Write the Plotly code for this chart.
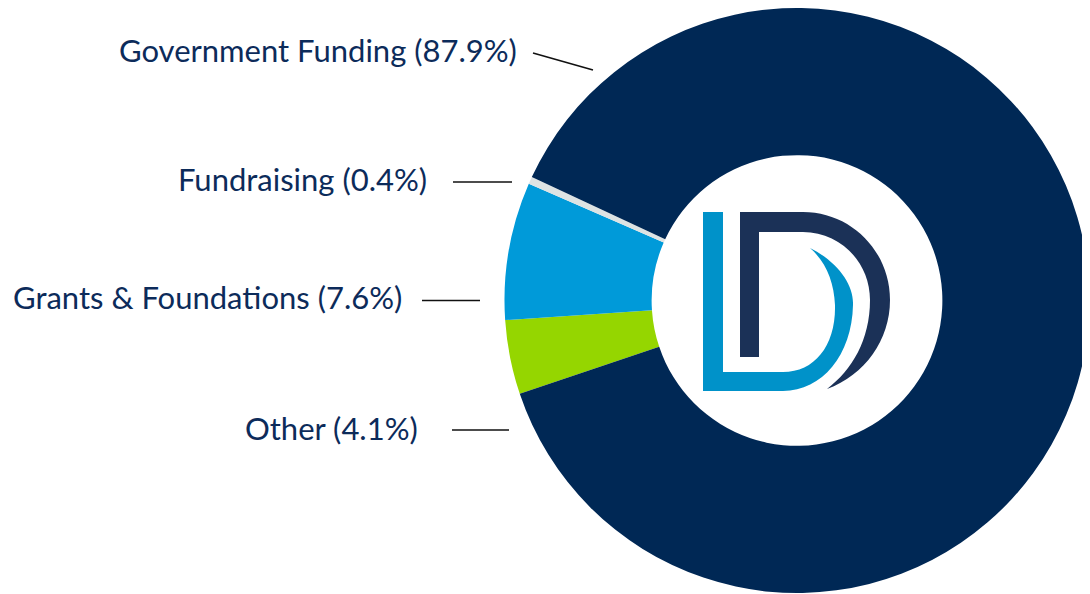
import plotly.graph_objects as go

# ---- data ----
categories = ["Other", "Grants & Foundations", "Fundraising", "Government Funding"]
values = [4.1, 7.6, 0.4, 87.9]
colors = ["#95d600", "#009ad9", "#dde3e3", "#002855"]
label_texts = ["Government Funding (87.9%)", "Fundraising (0.4%)",
               "Grants & Foundations (7.6%)", "Other (4.1%)"]

W, H = 1090, 594
OFF = 8  # page body margin compensation
TEXT_COLOR = "#0c2b5a"
FONT = "Lato"

def px(x):
    return x - OFF

fig = go.Figure()

# dummy trace to establish pixel-coordinate axes for overlays
fig.add_trace(go.Scatter(x=[], y=[], xaxis="x", yaxis="y", showlegend=False, hoverinfo="skip"))

cx, cy, r = px(797), px(300.5), 292.5
fig.add_trace(go.Pie(
    labels=categories, values=values, sort=False, direction="clockwise",
    rotation=251.4, hole=0.497,
    marker=dict(colors=colors, line=dict(width=0)),
    textinfo="none", hoverinfo="label+percent", showlegend=False,
    domain=dict(x=[max(0, (cx - r) / W), min(1, (cx + r) / W)],
                y=[max(0, 1 - (cy + r) / H), min(1, 1 - (cy - r) / H)]),
))

# label annotations (pixel coordinates)
label_pos = [(518, 50), (428, 179), (403, 297), (419, 427.5)]
for txt, (x, y) in zip(label_texts, label_pos):
    fig.add_annotation(x=px(x), y=px(y), xref="x", yref="y", text=txt, showarrow=False,
                       xanchor="right", yanchor="middle", borderpad=0,
                       font=dict(family=FONT, size=31, color=TEXT_COLOR))

# leader lines
leaders = [(533, 53, 593, 70), (453, 182, 512, 182), (422, 300.5, 480, 300.5), (452, 430, 509, 430)]
for x0, y0, x1, y1 in leaders:
    fig.add_shape(type="line", x0=px(x0), y0=px(y0), x1=px(x1), y1=px(y1), xref="x", yref="y",
                  line=dict(color="#111111", width=1.6))

# logo in the hole
def path(cmds):
    out = []
    for c in cmds:
        if isinstance(c, str):
            out.append(c)
        else:
            out.append(f"{px(c[0])} {px(c[1])}")
    return " ".join(out)

light_blue = path(["M", (703, 212), "L", (723, 212), "L", (723, 372), "L", (783, 372),
                   "C", (815, 372), ",", (836, 345), ",", (835, 305),
                   "C", (834, 282), ",", (826, 262), ",", (810, 248),
                   "C", (838, 262), ",", (854, 285), ",", (853, 305),
                   "C", (852, 355), ",", (822, 391), ",", (783, 391),
                   "L", (703, 391), "Z"])
dark_navy = path(["M", (740, 212), "L", (803, 212),
                  "C", (851, 212), ",", (890, 251), ",", (890, 300),
                  "C", (890, 340), ",", (865, 375), ",", (827, 389),
                  "C", (852, 370), ",", (870, 340), ",", (870, 300),
                  "C", (870, 262), ",", (840, 232), ",", (803, 232),
                  "L", (759, 232), "L", (759, 357), "L", (740, 357), "Z"])
fig.add_shape(type="path", path=light_blue, xref="x", yref="y",
              fillcolor="#0092c9", line=dict(width=0), layer="above")
fig.add_shape(type="path", path=dark_navy, xref="x", yref="y",
              fillcolor="#1b3157", line=dict(width=0), layer="above")

fig.update_layout(
    width=W, height=H, margin=dict(l=0, r=0, t=0, b=0),
    paper_bgcolor="white", plot_bgcolor="rgba(0,0,0,0)",
    xaxis=dict(range=[0, W], visible=False, fixedrange=True, domain=[0, 1]),
    yaxis=dict(range=[H, 0], visible=False, fixedrange=True, domain=[0, 1]),
    showlegend=False,
)

fig.write_html("out.html")
